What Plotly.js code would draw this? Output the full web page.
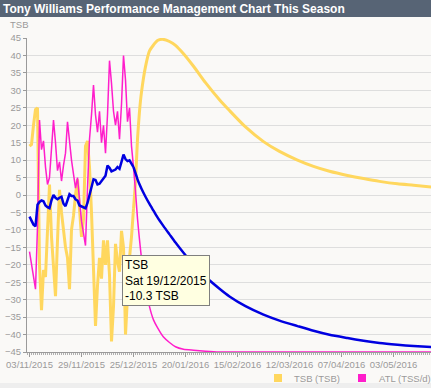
<!DOCTYPE html>
<html>
<head>
<meta charset="utf-8">
<script src="https://cdn.plot.ly/plotly-3.0.1.min.js"></script>
<style>
  html, body { margin: 0; padding: 0; background: #faf9f7; }
  #chart { width: 431px; height: 388px; }
</style>
</head>
<body>
<div id="chart"></div>
<script>
// ---- data ----
const dates = [
  '2015-11-03','2015-11-04','2015-11-05','2015-11-06','2015-11-07','2015-11-08','2015-11-09','2015-11-10',
  '2015-11-11','2015-11-12','2015-11-13','2015-11-14','2015-11-15','2015-11-16','2015-11-17','2015-11-18',
  '2015-11-19','2015-11-20','2015-11-21','2015-11-22','2015-11-23','2015-11-24','2015-11-25','2015-11-26',
  '2015-11-27','2015-11-28','2015-11-29','2015-11-30','2015-12-01','2015-12-02','2015-12-03','2015-12-04',
  '2015-12-05','2015-12-06','2015-12-07','2015-12-08','2015-12-09','2015-12-10','2015-12-11','2015-12-12',
  '2015-12-13','2015-12-14','2015-12-15','2015-12-16','2015-12-17','2015-12-18','2015-12-19','2015-12-20',
  '2015-12-21','2015-12-22','2015-12-23','2015-12-24','2015-12-25',
  '2015-12-26','2015-12-27','2015-12-28','2015-12-29','2015-12-31','2016-01-02','2016-01-04','2016-01-06',
  '2016-01-09','2016-01-12','2016-01-15','2016-01-19','2016-01-24','2016-01-30','2016-02-06','2016-02-11',
  '2016-02-19','2016-02-28','2016-03-07','2016-03-16','2016-03-24','2016-04-01','2016-04-10','2016-04-18',
  '2016-04-26','2016-05-05','2016-05-13','2016-05-22'
];

// Training Stress Balance (left axis)
const tsb = [
  14, 14.5, 20, 24.5, 25, -20, -33, -21.5, -23.5, -12, 3, -12, -20, -29, -13, 1.5,
  -5, -11, -15, -18, -27, -10, -6, 0, 4.5, -4, -12, -7, 14, 15.5, 8, -5,
  -20, -37.5, -26, -18, -24, -13, -20, -13, -23, -42, -32, -14, -19, -22, -10.3, -15,
  -40, -30, -18, -12, -4,
  4, 16, 24, 29.5, 36.8, 41.3, 43, 44.3, 44.6, 44, 42.9, 40.5, 36.9, 32.2, 27.3, 24.2,
  19.5, 15.3, 12.5, 10, 8.2, 6.8, 5.6, 4.7, 3.9, 3.2, 2.8, 2.3
];

// Acute Training Load, TSS/d (hidden right axis)
const atl = [
  40.3, 35, 30.8, 25.2, 50.4, 93.1, 81.2, 84.7, 74.2, 67.2, 70, 79.8, 93.1, 84, 72.8, 76.3,
  68.6, 74.9, 79.8, 92.4, 84, 77, 71.4, 65.8, 70, 60.2, 52.5, 47.6, 42.7, 65.8, 85.4, 95.2,
  107.1, 95.2, 88.2, 96.6, 84, 91, 79.8, 95.2, 116.9, 107.8, 96.6, 91, 96.6, 85.4, 99.4, 119,
  109.2, 92.4, 98, 82.6, 74.2,
  64.5, 53.5, 45.1, 37.7, 26.6, 18.2, 12.9, 9.8, 6, 3.8, 2.1, 1.1, 0.7, 0.3, 0, 0,
  0, 0, 0, 0, 0, 0, 0, 0, 0, 0, 0, 0
];

// Chronic Training Load, TSS/d (hidden right axis, legend entry off-screen)
const ctl = [
  54.3, 52.5, 51.1, 50.4, 59.1, 60.2, 60.8, 60.5, 58.8, 58.1, 57.7, 60.9, 63, 61.9, 61.3, 61.9,
  62.3, 59.5, 58.5, 60.9, 63.3, 62.6, 62.6, 61.3, 60.8, 58.8, 58.4, 58.1, 57.7, 59.8, 63, 66.5,
  69.3, 69, 67.2, 67.5, 68.5, 69.7, 70.7, 74.8, 73.9, 72.5, 72.8, 73.2, 74.2, 73.5, 76.3, 79.2,
  77.4, 76.6, 76.9, 75.6, 74.2,
  71.8, 69.3, 67.3, 65.5, 62.3, 59.4, 56.7, 54.0, 50.5, 47.2, 43.9, 39.8, 35.0, 30.2, 25.4, 22.3,
  18.4, 15.0, 12.6, 10.4, 8.5, 6.9, 5.6, 4.5, 3.6, 2.9, 2.4, 2.0
];

const seriesNames = ['TSB (TSB)', 'ATL (TSS/d)', 'CTL (TSS/d)'];
const titleText = 'Tony Williams Performance Management Chart This Season';
const lastRideDate = '2015-12-25';   // after this the chart shows the no-training projection
const tooltipDate = '2015-12-19';
const tooltipLabel = 'Sat 19/12/2015';

// ---- styling ----
const W = 431, H = 388;
const M = {l: 27, r: 0, t: 38, b: 36};
const PW = W - M.l - M.r, PH = H - M.t - M.b;
const px = x => (x - M.l) / PW;          // pixel -> paper x
const py = y => (H - M.b - y) / PH;      // pixel -> paper y
const cYellow = '#ffd75e', cMagenta = '#ff1ecb', cBlue = '#0000e0';
const grey = '#9a9a9a';
const tickFont = {family: 'Liberation Sans, Arial, sans-serif', size: 9.5, color: grey};

const cut = dates.indexOf(lastRideDate);
const head = a => a.slice(0, cut + 1);
const tail = a => a.slice(cut);

function pair(name, y, axis, color, width) {
  const base = {type: 'scatter', mode: 'lines', name: name, yaxis: axis, hoverinfo: 'skip'};
  return [
    Object.assign({}, base, {x: head(dates), y: head(y), line: {color: color, width: width}}),
    Object.assign({}, base, {x: tail(dates), y: tail(y), line: {color: color, width: width, shape: 'spline', smoothing: 0.6}})
  ];
}

const traces = [].concat(
  pair(seriesNames[0], tsb, 'y', cYellow, 3),
  pair(seriesNames[1], atl, 'y2', cMagenta, 1.5),
  pair(seriesNames[2], ctl, 'y2', cBlue, 2.5)
);

const tIdx = dates.indexOf(tooltipDate);
const tipText = 'TSB<br>' + tooltipLabel + '<br>' + tsb[tIdx].toFixed(1) + ' TSB';

const layout = {
  width: W, height: H,
  margin: {l: M.l, r: M.r, t: M.t, b: M.b, pad: 0},
  paper_bgcolor: '#faf9f7',
  plot_bgcolor: '#faf9f7',
  showlegend: false,
  title: {
    text: '<b>' + titleText + '</b>',
    x: 3 / W, xref: 'container', xanchor: 'left',
    y: 1 - 8.5 / H, yref: 'container', yanchor: 'middle',
    font: {family: 'Liberation Sans, Arial, sans-serif', size: 12, color: '#ffffff'}
  },
  xaxis: {
    type: 'date',
    range: ['2015-11-01 18:00', '2016-05-21 18:00'],
    tick0: '2015-11-03', dtick: 26 * 86400000,
    tickformat: '%d/%m/%Y',
    ticks: 'outside', ticklen: 4, tickcolor: grey,
    showline: true, linecolor: grey, linewidth: 1,
    showgrid: false, zeroline: false,
    tickfont: tickFont,
    minor: {tick0: '2015-11-03', dtick: 86400000, ticks: 'outside', ticklen: 2, tickcolor: '#b0b0b0', showgrid: false},
    fixedrange: true
  },
  yaxis: {
    range: [-45, 45], tick0: 0, dtick: 5,
    ticks: 'outside', ticklen: 3, tickcolor: grey,
    showline: true, linecolor: grey, linewidth: 1,
    showgrid: true, gridcolor: '#dedede', gridwidth: 1,
    zeroline: false,
    tickfont: tickFont,
    fixedrange: true
  },
  yaxis2: {range: [0, 126], overlaying: 'y', side: 'right', visible: false, fixedrange: true},
  shapes: [
    {type: 'rect', xref: 'paper', yref: 'paper', x0: px(0), x1: px(W), y0: py(17), y1: py(0),
     fillcolor: '#576475', line: {width: 0}, layer: 'above'},
    {type: 'rect', xref: 'paper', yref: 'paper', x0: px(0), x1: px(W), y0: py(H), y1: py(383),
     fillcolor: '#eeeeee', line: {width: 0}, layer: 'above'},
    {type: 'rect', xref: 'paper', yref: 'paper', x0: px(274), x1: px(282), y0: py(382), y1: py(374),
     fillcolor: cYellow, line: {width: 0}, layer: 'above'},
    {type: 'rect', xref: 'paper', yref: 'paper', x0: px(358), x1: px(366), y0: py(382), y1: py(374),
     fillcolor: cMagenta, line: {width: 0}, layer: 'above'}
  ],
  annotations: [
    {text: 'TSB', xref: 'paper', yref: 'paper', x: px(8), y: py(24), xanchor: 'left', yanchor: 'middle',
     showarrow: false, font: tickFont},
    {text: seriesNames[0], xref: 'paper', yref: 'paper', x: px(292), y: py(378), xanchor: 'left', yanchor: 'middle',
     showarrow: false, font: tickFont},
    {text: seriesNames[1], xref: 'paper', yref: 'paper', x: px(377), y: py(378), xanchor: 'left', yanchor: 'middle',
     showarrow: false, font: tickFont},
    {text: tipText, xref: 'x', yref: 'y', x: '2015-12-19 06:00', y: -17.1, xanchor: 'left', yanchor: 'top',
     showarrow: false, align: 'left', bgcolor: '#ffffe1', bordercolor: '#7f7f7f', borderwidth: 1, borderpad: 2,
     font: {family: 'Liberation Sans, Arial, sans-serif', size: 12, color: '#000000'}}
  ]
};

Plotly.newPlot('chart', traces, layout, {displayModeBar: false, staticPlot: true});
</script>
</body>
</html>
